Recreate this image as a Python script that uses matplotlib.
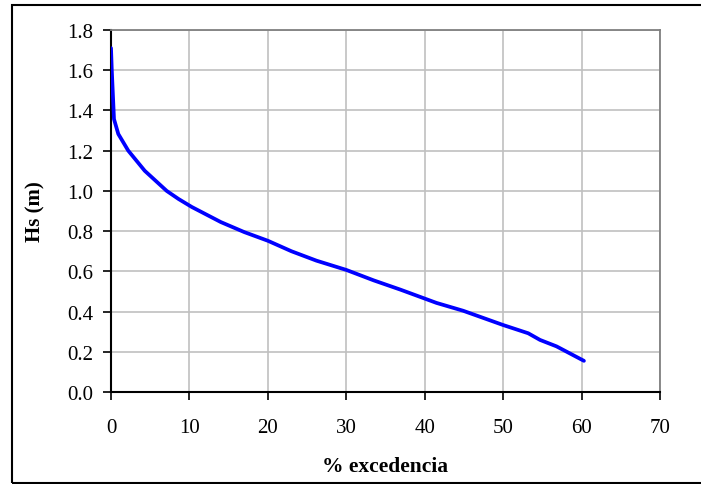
import matplotlib
matplotlib.use("Agg")
import matplotlib.pyplot as plt
from matplotlib.patches import Rectangle

# % excedencia vs Hs (m)
excedencia = [0.0, 0.1, 0.38, 0.93, 2.2, 4.3, 7.1, 8.6, 10.3, 14.0, 17.0, 20.0,
              23.0, 26.2, 30.0, 33.5, 36.9, 39.9, 41.5, 44.9, 50.0, 53.2, 54.7,
              56.8, 60.3]
hs = [1.71, 1.60, 1.357, 1.283, 1.20, 1.10, 1.00, 0.96, 0.92, 0.845, 0.795, 0.752,
      0.70, 0.653, 0.607, 0.555, 0.509, 0.466, 0.443, 0.404, 0.333, 0.292, 0.259,
      0.227, 0.155]

xticks = [0, 10, 20, 30, 40, 50, 60, 70]
yticks = [0.0, 0.2, 0.4, 0.6, 0.8, 1.0, 1.2, 1.4, 1.6, 1.8]

plt.rcParams['font.family'] = ['Liberation Serif', 'DejaVu Serif']

fig = plt.figure(figsize=(7.01, 4.85), dpi=100)
ax = fig.add_axes([111/701, 1 - 393/485, (660 - 111)/701, (393 - 31)/485])

# marco exterior
fig.patches.append(Rectangle((12/701, 1 - 484/485), 1.0, (484 - 6)/485,
                             transform=fig.transFigure, fill=False,
                             edgecolor='black', linewidth=1.5, clip_on=False))

ax.plot(excedencia, hs, color='#0000ff', linewidth=2.7, solid_capstyle='round',
        solid_joinstyle='round', zorder=3)

ax.set_xlim(0, 70)
ax.set_ylim(0, 1.8)
ax.set_xticks(xticks)
ax.set_yticks(yticks)
ax.set_yticklabels(['%.1f' % v for v in yticks])
ax.grid(True, color='#c0c0c0', linewidth=1.2)
ax.set_axisbelow(True)

for s in ['top', 'right']:
    ax.spines[s].set_color('#808080')
    ax.spines[s].set_linewidth(1.3)
for s in ['left', 'bottom']:
    ax.spines[s].set_color('black')
    ax.spines[s].set_linewidth(1.5)

ax.tick_params(direction='out', length=5.5, width=1.2, labelsize=15, pad=7)
ax.tick_params(axis='x', pad=13)

ax.set_xlabel('% excedencia', fontsize=15.5, fontweight='bold', labelpad=14)
ax.set_ylabel('Hs (m)', fontsize=15, fontweight='bold', labelpad=16)

fig.savefig('out.png', dpi=100)
